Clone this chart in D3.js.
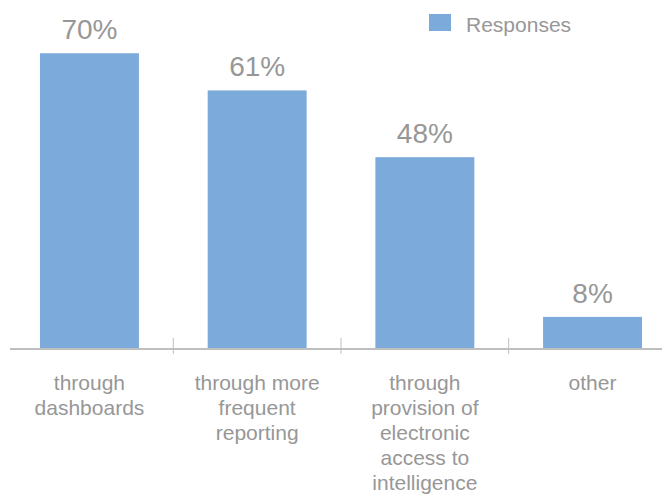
<!DOCTYPE html>
<html>
<head>
<meta charset="utf-8">
<script src="https://cdn.jsdelivr.net/npm/d3@7"></script>
<style>
  body { margin: 0; background: #fff; }
  text { font-family: "Liberation Sans", Arial, sans-serif; fill: #979797; }
</style>
</head>
<body>
<div id="chart"></div>
<script>
// categories, one array of lines per bar
let categories = [
	['through', 'dashboards'],
	['through more', 'frequent', 'reporting'],
	['through', 'provision of', 'electronic', 'access to', 'intelligence'],
	['other']
]
let values = [70, 61.2, 45.4, 7.6]
let valueLabels = ['70%', '61%', '48%', '8%']
let seriesName = 'Responses'

let width = 662, height = 495
let barColor = '#7BAADB'

let svg = d3.select('#chart')
  .append('svg')
    .attr('width', width)
    .attr('height', height)

let x = d3.scaleBand()
  .domain(d3.range(categories.length))
  .range([5.6, 676.4])
  .paddingInner(0.41)
  .paddingOuter(0.205)

let y = d3.scaleLinear()
  .domain([0, 80])
  .range([349, 11])

// bars
svg.selectAll('rect.bar')
  .data(values)
  .enter()
  .append('rect')
  .attr('class', 'bar')
  .attr('x', function(d, i) { return x(i) })
  .attr('y', function(d) { return y(d) })
  .attr('width', x.bandwidth())
  .attr('height', function(d) { return y(0) - y(d) })
  .attr('fill', barColor)

// axis line
svg.append('line')
  .attr('x1', 10)
  .attr('x2', width)
  .attr('y1', y(0))
  .attr('y2', y(0))
  .attr('stroke', '#bfbfbf')
  .attr('stroke-width', 2)

// tick marks between categories
svg.selectAll('line.tick')
  .data(d3.range(1, categories.length))
  .enter()
  .append('line')
  .attr('class', 'tick')
  .attr('x1', function(i) { return x(i) - x.step() * x.paddingInner() / 2 })
  .attr('x2', function(i) { return x(i) - x.step() * x.paddingInner() / 2 })
  .attr('y1', y(0) - 11)
  .attr('y2', y(0) + 5)
  .attr('stroke', '#bfbfbf')
  .attr('stroke-width', 1)

// data labels
svg.selectAll('text.value')
  .data(values)
  .enter()
  .append('text')
  .attr('class', 'value')
  .attr('x', function(d, i) { return x(i) + x.bandwidth() / 2 })
  .attr('y', function(d) { return y(d) - 14 })
  .attr('text-anchor', 'middle')
  .style('font-size', '28px')
  .text(function(d, i) { return valueLabels[i] })

// category labels
let cat = svg.selectAll('text.cat')
  .data(categories)
  .enter()
  .append('text')
  .attr('class', 'cat')
  .attr('text-anchor', 'middle')
  .style('font-size', '21px')

cat.selectAll('tspan')
  .data(function(d, i) { return d.map(function(t) { return {t: t, i: i} }) })
  .enter()
  .append('tspan')
  .attr('x', function(d) { return x(d.i) + x.bandwidth() / 2 })
  .attr('y', function(d, j) { return 390 + j * 25 })
  .text(function(d) { return d.t })

// legend
let legend = svg.append('g')
  .attr('transform', 'translate(429,14)')
legend.append('rect')
  .attr('width', 22)
  .attr('height', 17)
  .attr('fill', barColor)
legend.append('text')
  .attr('x', 37)
  .attr('y', 18)
  .style('font-size', '21px')
  .text(seriesName)
</script>
</body>
</html>
